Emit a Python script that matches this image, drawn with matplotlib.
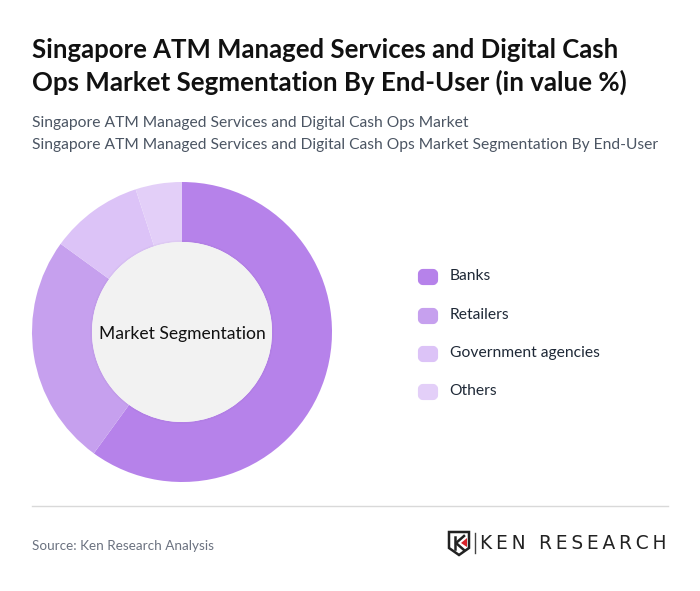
from matplotlib import pyplot as plt
from matplotlib.patches import FancyBboxPatch, Polygon, Circle

categories = ['Banks', 'Retailers', 'Government agencies', 'Others']
values = [60, 25, 10, 5]
colors = ['#b682ea', '#c6a0ee', '#dcc3f7', '#e3cff8']

title_lines = ['Singapore ATM Managed Services and Digital Cash',
               'Ops Market Segmentation By End-User (in value %)']
subtitle_lines = ['Singapore ATM Managed Services and Digital Cash Ops Market',
                  'Singapore ATM Managed Services and Digital Cash Ops Market Segmentation By End-User']
center_label = 'Market Segmentation'
source = 'Source: Ken Research Analysis'

plt.rcParams['font.family'] = ['Lato', 'DejaVu Sans']

W, H = 700, 591
fig = plt.figure(figsize=(W / 100, H / 100), dpi=100, facecolor='white')

# overlay in pixel coords, y pointing down like the picture
bg = fig.add_axes([0, 0, 1, 1])
bg.set_xlim(0, W)
bg.set_ylim(H, 0)
bg.axis('off')

bg.text(32, 50, title_lines[0], fontsize=18.5, fontweight='bold', color='#111111', va='center')
bg.text(32, 82, title_lines[1], fontsize=18.6, fontweight='bold', color='#111111', va='center')
bg.text(32, 123, subtitle_lines[0], fontsize=11.23, color='#4b5563', va='center')
bg.text(32, 144.5, subtitle_lines[1], fontsize=11.23, color='#4b5563', va='center')

# donut
cx, cy, R = 182, 332, 150
ax = fig.add_axes([(cx - R) / W, 1 - (cy + R) / H, 2 * R / W, 2 * R / H])
ax.pie(values, colors=colors, startangle=90, counterclock=False, radius=1,
       wedgeprops={'width': 0.4, 'linewidth': 0})
# soft shadow round the hole
ax.add_patch(Circle((0, 0), 0.612, facecolor='black', alpha=0.018, edgecolor='none', zorder=4))
ax.add_patch(Circle((0, 0), 0.6, facecolor='#f2f2f2', edgecolor='none', zorder=5))
ax.text(0, -0.015, center_label, ha='center', va='center', fontsize=12.6, color='#111111', zorder=6)
ax.set_xlim(-1, 1)
ax.set_ylim(-1, 1)

# legend
fg = fig.add_axes([0, 0, 1, 1])
fg.set_xlim(0, W)
fg.set_ylim(H, 0)
fg.axis('off')
fg.patch.set_alpha(0)

legend_y = [277, 316, 354, 392]
text_y = [276, 315, 353, 391]
for name, col, y, ty in zip(categories, colors, legend_y, text_y):
    fg.add_patch(FancyBboxPatch((420, y - 6), 16, 12, boxstyle='round,pad=0,rounding_size=3',
                                facecolor=col, edgecolor=col, linewidth=3, joinstyle='round'))
    fg.text(449.5, ty, name, fontsize=11.25, color='#1f2937', va='center')

# footer
fg.plot([32, 668], [506, 506], color='#d9d9d9', linewidth=1)
fg.text(32, 546, source, fontsize=9.7, color='#6b7280', va='center')

# logo
fg.add_patch(Polygon([(449, 532), (469, 532), (469, 548), (459, 555), (449, 548)], closed=True,
                     facecolor='none', edgecolor='#222222', linewidth=1.8))
fg.plot([455, 455], [537, 549], color='#222222', linewidth=1.8)
fg.plot([464, 456, 464], [536, 543, 550], color='#222222', linewidth=1.8)
fg.add_patch(Polygon([(467, 538), (467, 547), (461, 543)], closed=True, facecolor='#d8232a', edgecolor='none'))
fg.plot([474.5, 474.5], [533, 553], color='#444444', linewidth=1)
logo = 'KEN RESEARCH'
fg.text(480, 543.5, '\u200a\u200a'.join(logo), fontsize=13.4, color='#222222', va='center',
        family=['DejaVu Sans'])

fig.savefig('out.png', dpi=100)
